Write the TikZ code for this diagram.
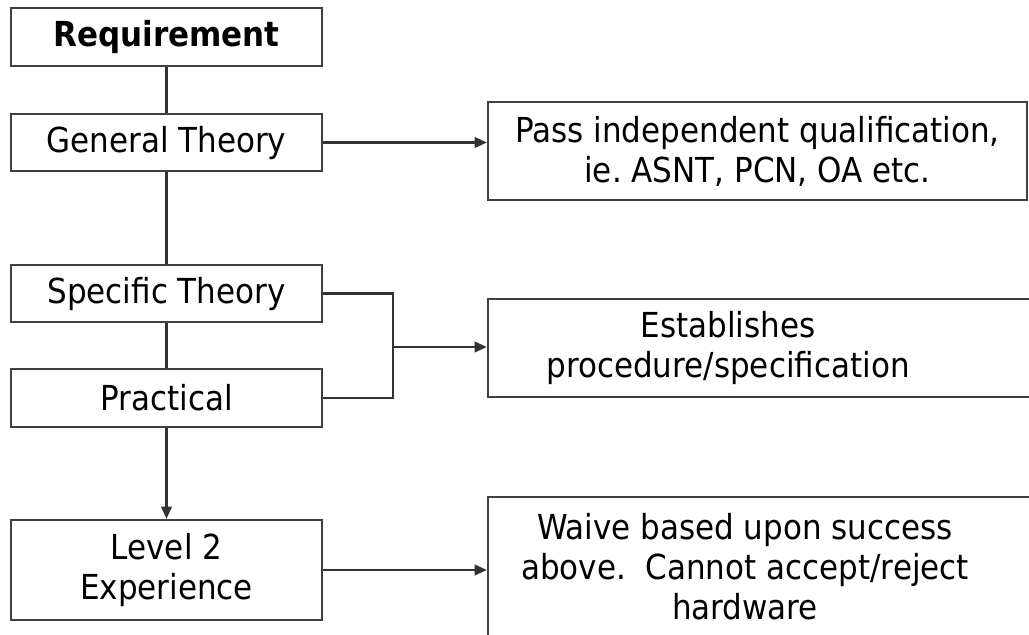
\documentclass[tikz,border=0pt]{standalone}
\usepackage{fontspec}
\setmainfont{DejaVu Sans}[FakeStretch=0.9]
\usetikzlibrary{arrows.meta, positioning}
\frenchspacing

\begin{document}
\begin{tikzpicture}[
    x=0.02cm, y=-0.02cm,
    box/.style={rectangle, draw=black!75, line width=1.3pt, minimum width=6.22cm, align=center, inner sep=0pt, font=\fontsize{19.6}{22.8}\selectfont},
    plain/.style={align=center, inner sep=0pt, font=\fontsize{19.6}{22.8}\selectfont},
    link/.style={line width=1.3pt, draw=black!80},
    arrow/.style={link, -{Triangle[length=7pt, width=6pt]}}
]
\useasboundingbox (0,0) rectangle (1029,635);

% Left column
\node[box, minimum height=1.16cm] (req) at (166.5,37) {\bfseries Requirement};
\node[box, minimum height=1.14cm] (general) at (166.5,142.5) {General Theory};
\node[box, minimum height=1.14cm] (specific) at (166.5,293.5) {Specific Theory};
\node[box, minimum height=1.16cm] (practical) at (166.5,398) {Practical};
\node[box, minimum height=2cm] (level) at (166.5,570) {Level 2\\Experience};

% Right column
\node[box, minimum width=10.78cm, minimum height=1.96cm] (pass) at (757.5,151) {Pass independent qualification,\\ie. ASNT, PCN, OA etc.};
\node[box, minimum width=11.2cm, minimum height=1.96cm] (est) at (768,348) {};
\node[plain] (esttext) at (728,348) {Establishes\\procedure/specification};
\node[box, minimum width=11.2cm, minimum height=3.4cm] (waive) at (768,582) {};
\node[plain] (waivetext) at (745,567) {Waive based upon success\\above.\ \ Cannot accept/reject\\hardware};

% Vertical chain
\draw[link] (req) -- (general);
\draw[link] (general) -- (specific);
\draw[link] (specific) -- (practical);
\draw[arrow] (practical) -- (level);

% Outputs
\draw[arrow] (general.east) -- (general.east -| pass.west);
\coordinate (join) at (393,347);
\draw[link] (specific.east) -| (join);
\draw[link] (practical.east) -| (join);
\draw[arrow] (join) -- (join -| est.west);
\draw[arrow] (level.east) -- (level.east -| waive.west);

\end{tikzpicture}
\end{document}
